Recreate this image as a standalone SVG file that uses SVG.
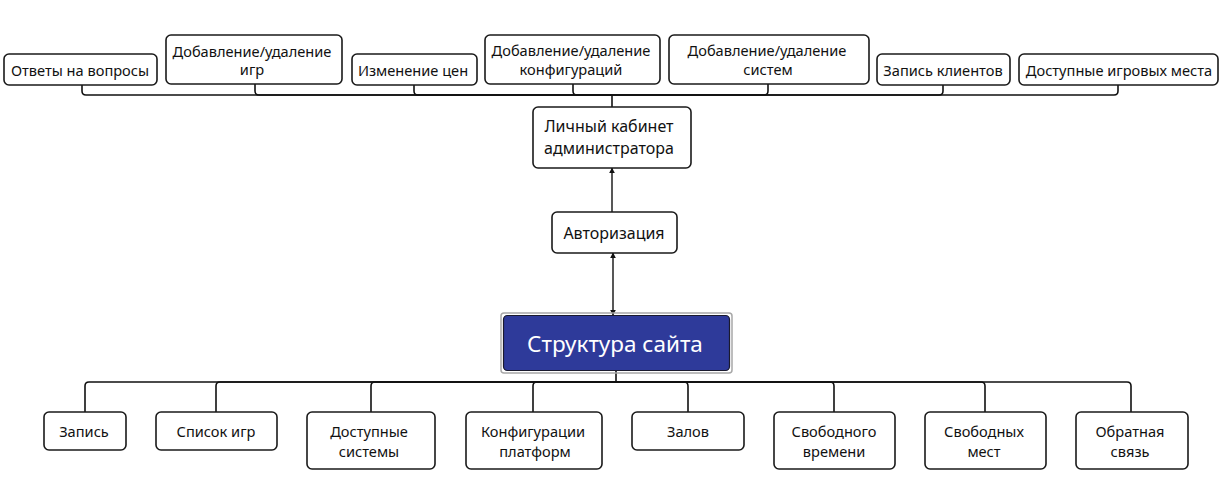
<svg xmlns="http://www.w3.org/2000/svg" width="1224" height="484" viewBox="0 0 1224 484">
<style>
.box{fill:#fff;stroke:#1a1a1a;stroke-width:1.6}
.t{font-family:"Noto Sans","Open Sans",sans-serif;font-size:14.6px;fill:#111;text-anchor:middle;dominant-baseline:central}
.tm{font-size:16px}
.conn{fill:none;stroke:#111;stroke-width:1.6}
.arr{fill:none;stroke:#111;stroke-width:1.4}
</style>
<defs>
<marker id="ah" viewBox="0 0 10 10" refX="9" refY="5" markerWidth="6" markerHeight="6" markerUnits="userSpaceOnUse" orient="auto-start-reverse">
<path d="M0,0 L10,5 L0,10 z" fill="#111"/>
</marker>
</defs>
<rect width="1224" height="484" fill="#fff"/>
<g id="connectors">
<path class="conn" d="M612 95 H86 Q82 95 82 91 V85"/>
<path class="conn" d="M612 95 H259 Q255 95 255 91 V84"/>
<path class="conn" d="M612 95 H418 Q414 95 414 91 V85"/>
<path class="conn" d="M612 95 H577 Q573 95 573 91 V84"/>
<path class="conn" d="M612 95 H764 Q768 95 768 91 V84"/>
<path class="conn" d="M612 95 H939 Q943 95 943 91 V85"/>
<path class="conn" d="M612 95 H1114 Q1118 95 1118 91 V85"/>
<path class="conn" stroke-width="2.6" d="M612 95 V107"/>
<path class="arr" marker-end="url(#ah)" d="M612 212 V168"/>
<path class="arr" marker-start="url(#ah)" marker-end="url(#ah)" d="M613 253 V315"/>
<path class="conn" stroke-width="2" d="M616 371 V382"/>
<path class="conn" d="M616 382 H89 Q85 382 85 386 V412"/>
<path class="conn" d="M616 382 H220 Q216 382 216 386 V412"/>
<path class="conn" d="M616 382 H375 Q371 382 371 386 V412"/>
<path class="conn" d="M616 382 H537 Q533 382 533 386 V412"/>
<path class="conn" d="M616 382 H684 Q688 382 688 386 V412"/>
<path class="conn" d="M616 382 H830 Q834 382 834 386 V412"/>
<path class="conn" d="M616 382 H981 Q985 382 985 386 V412"/>
<path class="conn" d="M616 382 H1127 Q1131 382 1131 386 V412"/>
</g>
<g id="n_otvety"><rect class="box" x="4" y="54" width="153" height="31" rx="5"/><text class="t" x="80" y="70">Ответы на вопросы</text></g>
<g id="n_igr"><rect class="box" x="166" y="35" width="176" height="49" rx="5"/><text class="t" x="252" y="51">Добавление/удаление</text><text class="t" x="252" y="69">игр</text></g>
<g id="n_ceny"><rect class="box" x="352" y="54" width="125" height="31" rx="5"/><text class="t" x="413" y="70">Изменение цен</text></g>
<g id="n_konf"><rect class="box" x="485" y="35" width="175" height="49" rx="5"/><text class="t" x="571" y="50">Добавление/удаление</text><text class="t" x="571" y="69">конфигураций</text></g>
<g id="n_sist"><rect class="box" x="669" y="35" width="200" height="49" rx="5"/><text class="t" x="767" y="50">Добавление/удаление</text><text class="t" x="768" y="69">систем</text></g>
<g id="n_zapkl"><rect class="box" x="877" y="54" width="133" height="31" rx="5"/><text class="t" x="943" y="70">Запись клиентов</text></g>
<g id="n_dost_mest"><rect class="box" x="1019" y="54" width="199" height="31" rx="5"/><text class="t" x="1119" y="70">Доступные игровых места</text></g>
<g id="n_lk"><rect class="box" x="533" y="107" width="158" height="61" rx="5"/><text class="t tm" x="609" y="126">Личный кабинет</text><text class="t tm" x="609" y="148">администратора</text></g>
<g id="n_avt"><rect class="box" x="552" y="212" width="125" height="41" rx="5"/><text class="t tm" x="614" y="233">Авторизация</text></g>
<g id="n_root"><rect x="501" y="313" width="231" height="60" rx="3" fill="none" stroke="#a8a8a8" stroke-width="1.5"/><rect x="503.5" y="315.5" width="226" height="55" rx="4" fill="#2e3a9a" stroke="#1a1a2e" stroke-width="1.2"/><text class="t" x="615" y="343" style="font-size:22.5px;fill:#fff">Структура сайта</text></g>
<g id="n_zapis"><rect class="box" x="44" y="412" width="82" height="38" rx="5"/><text class="t" x="84" y="431">Запись</text></g>
<g id="n_spisok"><rect class="box" x="156" y="412" width="121" height="38" rx="5"/><text class="t" x="216" y="431">Список игр</text></g>
<g id="n_dostsys"><rect class="box" x="307" y="412" width="128" height="57" rx="5"/><text class="t" x="369" y="431">Доступные</text><text class="t" x="369" y="451">системы</text></g>
<g id="n_konfplat"><rect class="box" x="466" y="412" width="136" height="57" rx="5"/><text class="t" x="533" y="431">Конфигурации</text><text class="t" x="535" y="451">платформ</text></g>
<g id="n_zalov"><rect class="box" x="632" y="412" width="112" height="38" rx="5"/><text class="t" x="688" y="431">Залов</text></g>
<g id="n_svvr"><rect class="box" x="774" y="412" width="121" height="57" rx="5"/><text class="t" x="834" y="431">Свободного</text><text class="t" x="834" y="451">времени</text></g>
<g id="n_svm"><rect class="box" x="925" y="412" width="121" height="57" rx="5"/><text class="t" x="984" y="431">Свободных</text><text class="t" x="984" y="451">мест</text></g>
<g id="n_obr"><rect class="box" x="1076" y="412" width="112" height="57" rx="5"/><text class="t" x="1130" y="431">Обратная</text><text class="t" x="1130" y="451">связь</text></g>
</svg>
